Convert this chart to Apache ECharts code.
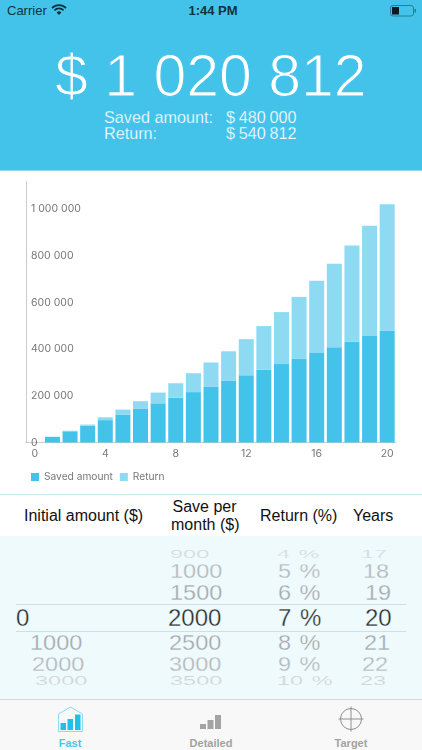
<!DOCTYPE html>
<html>
<head>
<meta charset="utf-8">
<script src="https://cdn.jsdelivr.net/npm/echarts@6/dist/echarts.min.js"></script>
<style>
  html, body { margin: 0; padding: 0; background: #fff; }
  body { width: 422px; height: 750px; position: relative; overflow: hidden; font-family: "Liberation Sans", Arial, sans-serif; }
  .abs { position: absolute; white-space: nowrap; line-height: 1; }
  #header { position: absolute; left: 0; top: 0; width: 422px; height: 170px; background: #44c3ea; }
  #chart { position: absolute; left: 0; top: 170px; width: 422px; height: 320px; border-top: 1px solid #8edaf3; box-sizing: border-box; }
  #picker { position: absolute; left: 0; top: 536px; width: 422px; height: 163px; background: #effafd; }
  #tabbar { position: absolute; left: 0; top: 699px; width: 422px; height: 51px; background: #f8f8f8; border-top: 1px solid #d4dadc; box-sizing: border-box; }
  .rule { position: absolute; left: 16px; width: 390px; height: 1px; background: #cfdfe3; }
  .light { color: #fff; -webkit-text-stroke: 0.25px #44c3ea; }
  .col { color: #111; font-size: 16px; }
  .tab { font-size: 11px; font-weight: bold; transform: translateX(-50%); color: #a2a2a2; }
</style>
</head>
<body>
<div id="header"></div>
<div class="abs" style="left:7px;top:4px;font-size:13px;line-height:14px;color:#10323f">Carrier</div>
<svg class="abs" style="left:51px;top:3px" width="16" height="13" viewBox="0 0 16 13">
  <path d="M1 5 A10 10 0 0 1 15 5 M3.4 7.3 A6.6 6.6 0 0 1 12.6 7.3" fill="none" stroke="#10323f" stroke-width="1.8"/>
  <path d="M5.6 9.4 A3.4 3.4 0 0 1 10.4 9.4 L8 12 Z" fill="#10323f"/>
</svg>
<div class="abs" style="left:213px;top:4px;transform:translateX(-50%);font-size:13px;line-height:14px;font-weight:bold;color:#10323f">1:44 PM</div>
<svg class="abs" style="left:390px;top:5px" width="27" height="12" viewBox="0 0 27 12">
  <rect x="0.5" y="0.5" width="23" height="10.5" rx="2.5" fill="none" stroke="#2d7b96"/>
  <rect x="2" y="2" width="7" height="7.5" fill="#0b1a20"/>
  <rect x="24.5" y="4" width="1.5" height="3.5" fill="#2d7b96"/>
</svg>
<div id="total" class="abs light" style="left:55px;top:47px;font-size:59px;-webkit-text-stroke-width:1.2px"></div>
<div id="savedLabel" class="abs light" style="left:104px;top:109px;font-size:16.2px"></div>
<div id="savedValue" class="abs light" style="left:226px;top:109px;font-size:16.2px;word-spacing:-0.8px"></div>
<div id="returnLabel" class="abs light" style="left:104px;top:125px;font-size:16.2px"></div>
<div id="returnValue" class="abs light" style="left:226px;top:125px;font-size:16.2px;word-spacing:-0.8px"></div>

<div id="chart"></div>

<div class="abs" style="left:0;top:494px;width:422px;height:1px;background:#cbe8f3"></div>
<div class="abs col" style="left:24px;top:508px">Initial amount ($)</div>
<div class="abs col" style="left:172.5px;top:499px">Save per</div>
<div class="abs col" style="left:171px;top:517px">month ($)</div>
<div class="abs col" style="left:260px;top:508px">Return (%)</div>
<div class="abs col" style="left:353px;top:508px">Years</div>

<div id="picker"></div>
<div class="rule" style="top:604px"></div>
<div class="rule" style="top:631px"></div>
<div id="wheels"></div>

<div id="tabbar"></div>
<svg class="abs" style="left:57px;top:706px" width="27" height="27" viewBox="0 0 27 27">
  <path d="M1.5 25.5 V8 L13.5 1 L25.5 8 V25.5 Z" fill="none" stroke="#8adcf2" stroke-width="1"/>
  <rect x="3.5" y="17" width="5.5" height="7" fill="#22bfe8"/>
  <rect x="10.5" y="13" width="5.5" height="11" fill="#22bfe8"/>
  <rect x="18" y="8.5" width="5.5" height="15.5" fill="#22bfe8"/>
</svg>
<svg class="abs" style="left:199px;top:713px" width="24" height="18" viewBox="0 0 24 18">
  <rect x="1" y="11" width="6" height="5" fill="#a3a3a3"/>
  <rect x="8.5" y="7" width="6" height="9" fill="#a3a3a3"/>
  <rect x="16" y="2" width="6" height="14" fill="#a3a3a3"/>
</svg>
<svg class="abs" style="left:338px;top:706px" width="26" height="26" viewBox="0 0 26 26">
  <circle cx="13" cy="13" r="10.5" fill="none" stroke="#8f8f8f" stroke-width="1"/>
  <path d="M13 0.5 V25.5 M0.5 13 H25.5" stroke="#8f8f8f" stroke-width="1"/>
</svg>
<div class="abs tab" style="left:70px;top:738px;color:#45c8ec">Fast</div>
<div class="abs tab" style="left:211px;top:738px">Detailed</div>
<div class="abs tab" style="left:351px;top:738px">Target</div>

<script>
var years = ['0','1','2','3','4','5','6','7','8','9','10','11','12','13','14','15','16','17','18','19','20'];
var savedAmount = [0,24000,48000,72000,96000,120000,144000,168000,192000,216000,240000,264000,288000,312000,336000,360000,384000,408000,432000,456000,480000];
var returnAmount = [0,800,2500,5000,12000,21000,33000,46000,62000,81000,103000,127000,155000,187000,223000,264000,309000,358000,412000,473000,540812];
var seriesNames = ['Saved amount', 'Return'];
var summaryTexts = { total: '$ 1 020 812', savedLabel: 'Saved amount:', savedValue: '$ 480 000', returnLabel: 'Return:', returnValue: '$ 540 812' };

// picker rows: [text, left, centre y, font px, squash, colour]
var wheelInitial = [['0',16,618,24,1,'#2b2f30'],['1000',30,643,23.5,.95,'#a4a9ab'],['2000',32,665,23.5,.85,'#b4b9bb'],['3000',35,681,23.5,.52,'#d0d5d7']];
var wheelMonthly = [['900',170,555,23.5,.5,'#d6dadc'],['1000',170,572,23.5,.85,'#b4b9bb'],['1500',170,593,23.5,.95,'#a4a9ab'],['2000',168,618,24,1,'#2b2f30'],['2500',169,643,23.5,.95,'#a4a9ab'],['3000',169,665,23.5,.85,'#b4b9bb'],['3500',170,681,23.5,.52,'#d0d5d7']];
var wheelReturn = [['4 %',277,555,23.5,.5,'#d6dadc'],['5 %',278,572,23.5,.85,'#b4b9bb'],['6 %',278,593,23.5,.95,'#a4a9ab'],['7 %',278,618,24,1,'#2b2f30'],['8 %',278,643,23.5,.95,'#a4a9ab'],['9 %',278,665,23.5,.85,'#b4b9bb'],['10 %',277,681,23.5,.52,'#d0d5d7']];
var wheelYears = [['17',361,555,23.5,.5,'#d6dadc'],['18',363,572,23.5,.85,'#b4b9bb'],['19',365,593,23.5,.95,'#a4a9ab'],['20',365,618,24,1,'#2b2f30'],['21',364,643,23.5,.95,'#a4a9ab'],['22',362,665,23.5,.85,'#b4b9bb'],['23',360,681,23.5,.52,'#d0d5d7']];

Object.keys(summaryTexts).forEach(function (id) {
  document.getElementById(id).textContent = summaryTexts[id];
});

var wheels = document.getElementById('wheels');
[wheelInitial, wheelMonthly, wheelReturn, wheelYears].forEach(function (rows) {
  rows.forEach(function (r) {
    var d = document.createElement('div');
    d.className = 'abs';
    d.textContent = r[0];
    d.style.cssText = 'left:' + r[1] + 'px;top:' + (r[2] - r[3] / 2) + 'px;font-size:' + r[3] + 'px;color:' + r[5] +
      ';word-spacing:2px;-webkit-text-stroke:0.3px #effafd;transform:scaleY(' + r[4] + ');transform-origin:left center';
    wheels.appendChild(d);
  });
});

function spaced(v) {
  return String(v).replace(/\B(?=(\d{3})+$)/g, ' ');
}

var chart = echarts.init(document.getElementById('chart'));
chart.setOption({
  animation: false,
  textStyle: { fontFamily: 'Inter, "Liberation Sans", sans-serif' },
  legend: {
    left: 31, top: 301,
    itemWidth: 8, itemHeight: 8, itemGap: 7,
    icon: 'rect',
    padding: 0,
    selectedMode: false,
    textStyle: { color: '#777', fontSize: 10.2, padding: [0, 0, 0, 0] },
    data: seriesNames
  },
  grid: { left: 26, right: 26, top: 10.5, height: 261 },
  xAxis: {
    type: 'category',
    data: years,
    axisLine: { lineStyle: { color: '#ccc', width: 1 } },
    axisTick: { show: false },
    axisLabel: { interval: 3, color: '#777', fontSize: 10.5, margin: 6 }
  },
  yAxis: {
    type: 'value',
    min: 0, max: 1118700, interval: 200000,
    axisLine: { show: true, lineStyle: { color: '#ccc', width: 1 } },
    axisTick: { show: false },
    splitLine: { show: false },
    axisLabel: { inside: true, margin: 5, color: '#777', fontSize: 10.5, showMaxLabel: false, formatter: spaced }
  },
  series: [
    { name: seriesNames[0], type: 'bar', stack: 'total', barWidth: 15, itemStyle: { color: '#44c3ea' }, data: savedAmount },
    { name: seriesNames[1], type: 'bar', stack: 'total', barWidth: 15, itemStyle: { color: '#8edaf3' }, data: returnAmount }
  ]
});
</script>
</body>
</html>
